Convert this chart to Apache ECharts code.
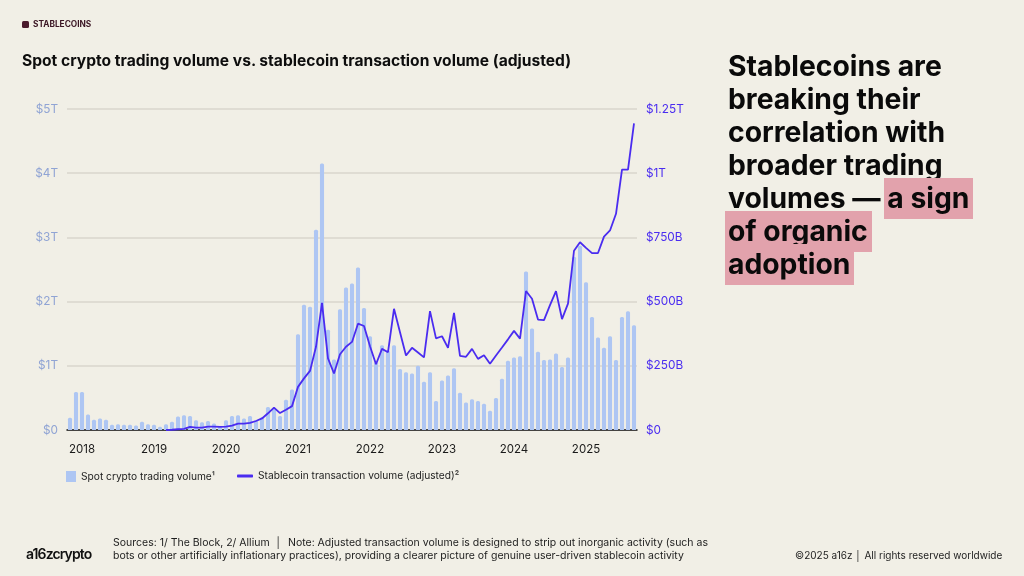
<!DOCTYPE html>
<html>
<head>
<meta charset="utf-8">
<script src="https://cdn.jsdelivr.net/npm/echarts@6/dist/echarts.min.js"></script>
<style>
  html, body { margin:0; padding:0; width:1024px; height:576px; background:#f1efe6; overflow:hidden; font-family: Inter, "Noto Sans", sans-serif; }
  #chart { position:absolute; left:0; top:0; width:1024px; height:576px; }
  .abs { position:absolute; white-space:nowrap; }
  #tag { left:22px; top:19px; font-size:8.3px; font-weight:700; color:#3b1624; display:flex; align-items:center; }
  #tag .sq { width:7px; height:7px; background:#4a1a2c; border-radius:1.5px; margin-right:4px; display:inline-block; }
  #title { left:22px; top:51px; font-size:15.6px; font-weight:700; color:#0d0d0d; letter-spacing:0; }
  #headline { left:728px; top:50px; font-size:28.3px; font-weight:700; color:#0a0a0a; line-height:33px; letter-spacing:0; }
  .hl { background:#e2a2ac; padding:3px 4px 4px 3px; margin-left:-3px; -webkit-box-decoration-break:clone; box-decoration-break:clone; }
  #logo { left:26px; top:545px; font-size:14px; font-weight:600; color:#111; letter-spacing:-0.9px; }
  #sources { left:113px; top:536px; font-size:10.5px; color:#1d1d1d; line-height:13px; }
  #copy { left:795px; top:549px; font-size:10px; color:#1d1d1d; }
</style>
</head>
<body>
<div id="chart"></div>
<div id="tag" class="abs"><span class="sq"></span>STABLECOINS</div>
<div id="title" class="abs">Spot crypto trading volume vs. stablecoin transaction volume (adjusted)</div>
<div id="headline" class="abs">Stablecoins are<br>breaking their<br>correlation with<br>broader trading<br>volumes — <span class="hl">a sign</span><br><span class="hl">of organic</span><br><span class="hl">adoption</span></div>
<div id="logo" class="abs">a16zcrypto</div>
<div id="sources" class="abs">Sources: 1/ The Block, 2/ Allium &nbsp;│&nbsp; Note: Adjusted transaction volume is designed to strip out inorganic activity (such as<br>bots or other artificially inflationary practices), providing a clearer picture of genuine user-driven stablecoin activity</div>
<div id="copy" class="abs">©2025 a16z │ All rights reserved worldwide</div>
<script>
const months = [
 '2017-11','2017-12',
 '2018-01','2018-02','2018-03','2018-04','2018-05','2018-06','2018-07','2018-08','2018-09','2018-10','2018-11','2018-12',
 '2019-01','2019-02','2019-03','2019-04','2019-05','2019-06','2019-07','2019-08','2019-09','2019-10','2019-11','2019-12',
 '2020-01','2020-02','2020-03','2020-04','2020-05','2020-06','2020-07','2020-08','2020-09','2020-10','2020-11','2020-12',
 '2021-01','2021-02','2021-03','2021-04','2021-05','2021-06','2021-07','2021-08','2021-09','2021-10','2021-11','2021-12',
 '2022-01','2022-02','2022-03','2022-04','2022-05','2022-06','2022-07','2022-08','2022-09','2022-10','2022-11','2022-12',
 '2023-01','2023-02','2023-03','2023-04','2023-05','2023-06','2023-07','2023-08','2023-09','2023-10','2023-11','2023-12',
 '2024-01','2024-02','2024-03','2024-04','2024-05','2024-06','2024-07','2024-08','2024-09','2024-10','2024-11','2024-12',
 '2025-01','2025-02','2025-03','2025-04','2025-05','2025-06','2025-07','2025-08','2025-09'
];
// Spot crypto trading volume, $ trillions
const spotVolume = [
 0.19,0.59,
 0.59,0.24,0.16,0.18,0.16,0.08,0.09,0.08,0.08,0.07,0.13,0.09,
 0.08,0.05,0.09,0.13,0.21,0.23,0.22,0.15,0.12,0.14,0.10,0.06,
 0.15,0.22,0.23,0.18,0.22,0.15,0.20,0.36,0.33,0.22,0.47,0.63,
 1.49,1.95,1.92,3.12,4.15,1.56,1.10,1.88,2.22,2.28,2.53,1.90,
 1.46,1.06,1.32,1.24,1.32,0.95,0.90,0.88,1.00,0.75,0.90,0.45,
 0.77,0.85,0.96,0.58,0.43,0.48,0.45,0.41,0.30,0.50,0.80,1.08,
 1.13,1.15,2.47,1.58,1.22,1.09,1.10,1.19,0.98,1.13,2.70,2.87,
 2.30,1.76,1.44,1.28,1.46,1.09,1.76,1.85,1.63
];
// Stablecoin transaction volume (adjusted), $ billions (no visible line before Mar 2019)
const stableVolume = [
 null,null,
 null,null,null,null,null,null,null,null,null,null,null,null,
 null,null,0,1,3,4,12,9,9,13,13,12,
 13,17,25,25,28,35,45,65,87,66,79,93,
 168,201,230,324,495,279,220,295,324,343,414,405,
 326,256,316,303,472,381,290,320,302,283,463,357,
 365,320,456,289,285,316,277,291,258,290,321,353,
 386,356,541,511,430,428,486,541,432,492,698,731,
 709,689,689,753,777,842,1014,1014,1194
];
const leftTicks = ['$0','$1T','$2T','$3T','$4T','$5T'];
const rightTicks = ['$0','$250B','$500B','$750B','$1T','$1.25T'];

const chart = echarts.init(document.getElementById('chart'), null, {renderer:'canvas'});
const fontFam = 'Inter, "Noto Sans", sans-serif';
chart.setOption({
  backgroundColor: 'transparent',
  animation: false,
  textStyle: { fontFamily: fontFam },
  grid: { left: 67, right: 387, top: 109, bottom: 146, containLabel: false },
  legend: [
    { left: 66, top: 471, padding: 0, itemWidth: 10, itemHeight: 11,
      textStyle: { fontSize: 10.2, color: '#1d1d1d', fontFamily: fontFam },
      data: [{ name: 'Spot crypto trading volume¹', icon: 'rect' }] },
    { left: 237, top: 471, padding: 0, itemWidth: 16, itemHeight: 3,
      textStyle: { fontSize: 10.2, color: '#1d1d1d', fontFamily: fontFam },
      data: [{ name: 'Stablecoin transaction volume (adjusted)²', icon: 'roundRect' }] }
  ],
  xAxis: {
    type: 'category',
    data: months,
    boundaryGap: true,
    axisLine: { lineStyle: { color: '#111', width: 1.5 } },
    axisTick: { show: false },
    axisLabel: {
      interval: (i, v) => v.endsWith('-01'),
      formatter: v => v.slice(0, 4),
      color: '#1a1a1a', fontSize: 11.5, margin: 14, fontFamily: fontFam
    }
  },
  yAxis: [
    { type: 'value', min: 0, max: 5, interval: 1,
      axisLine: { show: false }, axisTick: { show: false },
      axisLabel: { formatter: v => leftTicks[Math.round(v)], color: '#90a4d4', fontSize: 11.8, margin: 9, fontFamily: fontFam },
      splitLine: { lineStyle: { color: '#d9d6cd', width: 1.5 } } },
    { type: 'value', min: 0, max: 1250, interval: 250,
      axisLine: { show: false }, axisTick: { show: false },
      axisLabel: { formatter: v => rightTicks[Math.round(v / 250)], color: '#4a2cf0', fontSize: 11.8, margin: 9, fontFamily: fontFam },
      splitLine: { show: false } }
  ],
  series: [
    { name: 'Spot crypto trading volume¹', type: 'bar', data: spotVolume, yAxisIndex: 0,
      barWidth: '68%', itemStyle: { color: '#aec6f3', borderRadius: [1.5, 1.5, 0, 0] }, z: 2 },
    { name: 'Stablecoin transaction volume (adjusted)²', type: 'line', data: stableVolume, yAxisIndex: 1,
      symbol: 'none', connectNulls: false, lineStyle: { color: '#4a2cf0', width: 1.8 }, itemStyle: { color: '#4a2cf0' }, z: 3 }
  ]
});
</script>
</body>
</html>
